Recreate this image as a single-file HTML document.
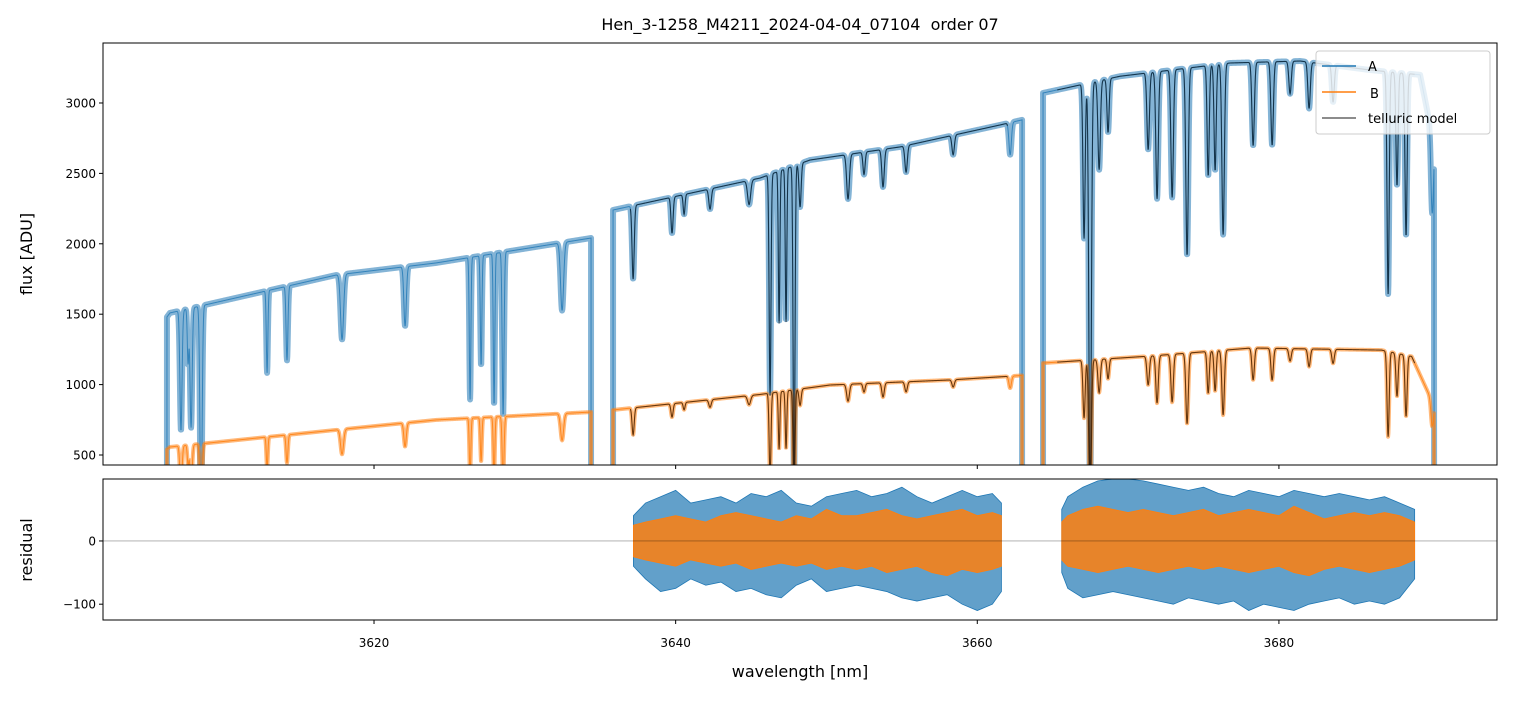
<!DOCTYPE html>
<html><head><meta charset="utf-8"><style>
body{margin:0;background:#fff;font-family:"Liberation Sans","DejaVu Sans",sans-serif}
svg text{font-family:"DejaVu Sans","Liberation Sans",sans-serif;fill:#000}
</style></head><body>
<svg id="c" width="1513" height="696" viewBox="0 0 1513 696" xmlns="http://www.w3.org/2000/svg">
<defs>
<clipPath id="ct"><rect x="103" y="43" width="1394" height="422"/></clipPath>
<clipPath id="cb"><rect x="103" y="479" width="1394" height="141"/></clipPath>
</defs>
<text x="800" y="30" font-size="16" text-anchor="middle" style="white-space:pre">Hen_3-1258_M4211_2024-04-04_07104  order 07</text>
<g id="topg" clip-path="url(#ct)"></g>
<g id="botg" clip-path="url(#cb)"></g>
<g id="axes"></g>
<text transform="translate(32,254) rotate(-90)" font-size="16" text-anchor="middle">flux [ADU]</text>
<text transform="translate(32,550) rotate(-90)" font-size="16" text-anchor="middle">residual</text>
<text x="800" y="677" font-size="16" text-anchor="middle">wavelength [nm]</text>
<g id="legend">
<rect x="1316" y="51" width="174" height="83" rx="3" fill="#fff" fill-opacity="0.8" stroke="#ccc"/>
<line x1="1322" y1="66" x2="1356" y2="66" stroke="#1f77b4" stroke-width="1.5"/>
<text x="1368" y="71" font-size="13">A</text>
<line x1="1322" y1="92" x2="1356" y2="92" stroke="#ff7f0e" stroke-width="1.5"/>
<text x="1370" y="98" font-size="13">B</text>
<line x1="1322" y1="118" x2="1356" y2="118" stroke="#000" stroke-opacity="0.6" stroke-width="1.5"/>
<text x="1368" y="123" font-size="13">telluric model</text>
</g>
</svg>
<script>
// ---- data ----
const segments = [[3606.27, 3634.39], [3635.85, 3662.97], [3664.36, 3690.29]];
const modelSegments = [[3637.0, 3662.0], [3665.3, 3689.0]];
const contA_wl = [3606.27, 3606.47, 3617.48, 3624.11, 3634.39, 3635.85, 3645.60, 3648.91, 3654.88, 3661.51, 3662.97, 3664.36, 3669.47, 3676.76, 3681.40, 3686.05, 3689.36, 3690.29];
const contA_val = [1480, 1509, 1778, 1864, 2041, 2240, 2467, 2595, 2688, 2844, 2880, 3071, 3190, 3284, 3298, 3234, 3200, 2700];
const contB_wl = [3606.27, 3606.47, 3617.48, 3624.11, 3634.39, 3635.85, 3645.60, 3650.23, 3658.19, 3662.97, 3664.36, 3671.5, 3678.2, 3686.8, 3688.8, 3690.29];
const contB_val = [540, 557, 678, 749, 805, 820, 930, 997, 1033, 1065, 1153, 1203, 1260, 1245, 1200, 850];
const lineCenters = [3607.20, 3607.67, 3607.87, 3608.53, 3612.91, 3614.23, 3617.88, 3622.06, 3626.37, 3627.10, 3627.96, 3628.56, 3632.47, 3637.18, 3639.76, 3640.56, 3642.28, 3644.87, 3646.26, 3646.86, 3647.32, 3647.85, 3648.25, 3651.43, 3652.49, 3653.75, 3655.28, 3658.40, 3662.18, 3667.08, 3667.48, 3668.08, 3668.67, 3671.33, 3671.92, 3672.92, 3673.91, 3675.31, 3675.77, 3676.30, 3678.29, 3679.55, 3680.74, 3682.00, 3683.59, 3687.24, 3687.83, 3688.43, 3690.16];
const lineDepths = [0.56, 0.25, 0.55, 0.98, 0.35, 0.31, 0.26, 0.23, 0.53, 0.41, 0.56, 0.6, 0.24, 0.23, 0.11, 0.06, 0.06, 0.07, 0.63, 0.43, 0.43, 0.9, 0.12, 0.12, 0.06, 0.1, 0.07, 0.05, 0.08, 0.35, 0.95, 0.2, 0.12, 0.17, 0.28, 0.28, 0.41, 0.24, 0.23, 0.37, 0.18, 0.18, 0.07, 0.1, 0.08, 0.49, 0.25, 0.36, 0.2];
const lineWidths = [0.07, 0.05, 0.07, 0.07, 0.05, 0.06, 0.1, 0.08, 0.05, 0.05, 0.05, 0.06, 0.1, 0.07, 0.07, 0.06, 0.08, 0.1, 0.06, 0.05, 0.05, 0.06, 0.07, 0.09, 0.07, 0.08, 0.08, 0.08, 0.08, 0.07, 0.08, 0.08, 0.07, 0.08, 0.08, 0.08, 0.08, 0.07, 0.07, 0.08, 0.08, 0.08, 0.08, 0.08, 0.08, 0.07, 0.07, 0.07, 0.08];
const resWl1 = [3637.2,3638,3639,3640,3641,3642,3643,3644,3645,3646,3647,3648,3649,3650,3651,3652,3653,3654,3655,3656,3657,3658,3659,3660,3661,3661.6];
const resAhi1 = [40,60,70,80,60,65,70,60,75,70,80,60,55,70,75,80,70,75,85,70,60,70,80,70,75,60];
const resAlo1 = [-40,-60,-80,-75,-60,-70,-65,-80,-75,-85,-90,-70,-60,-80,-75,-70,-75,-80,-90,-95,-90,-85,-100,-110,-100,-80];
const resBhi1 = [25,30,35,40,35,30,40,45,40,35,30,40,35,50,40,40,45,50,40,35,40,45,50,40,45,40];
const resBlo1 = [-25,-30,-35,-40,-30,-35,-40,-35,-45,-40,-35,-40,-35,-45,-40,-45,-40,-50,-45,-40,-50,-55,-45,-50,-45,-40];
const resWl2 = [3665.6,3666,3667,3668,3669,3670,3671,3672,3673,3674,3675,3676,3677,3678,3679,3680,3681,3682,3683,3684,3685,3686,3687,3688,3689];
const resAhi2 = [50,70,85,95,98,98,95,90,85,80,85,75,70,80,75,70,80,75,70,75,70,65,70,60,50];
const resAlo2 = [-50,-75,-90,-85,-80,-85,-90,-95,-100,-90,-95,-100,-95,-110,-100,-105,-110,-100,-95,-90,-100,-95,-100,-90,-60];
const resBhi2 = [30,40,50,55,50,45,50,45,40,45,50,40,45,50,45,40,55,45,35,40,45,40,45,40,30];
const resBlo2 = [-30,-40,-45,-50,-45,-40,-45,-50,-45,-40,-45,-40,-45,-50,-45,-40,-50,-55,-45,-40,-45,-50,-45,-40,-30];
const xTicks = [3620, 3640, 3660, 3680];
const yTicksTop = [500, 1000, 1500, 2000, 2500, 3000];
const yTicksBot = [-100, 0];
// ---- scales ----
const X0=3602.03, X1=3694.46, PX0=103, PX1=1497;
const sx = w => PX0 + (w - X0) / (X1 - X0) * (PX1 - PX0);
const syT = v => 465 - (v - 429) / (3426 - 429) * 422;
const syB = v => 620 - (v + 125) / (98 + 125) * 141;
const NS='http://www.w3.org/2000/svg';
function mk(tag, attrs, parent){const e=document.createElementNS(NS,tag);for(const k in attrs)e.setAttribute(k,attrs[k]);parent.appendChild(e);return e;}
function interp(xs, ys, x){ if(x<=xs[0])return ys[0]; for(let i=1;i<xs.length;i++){ if(x<=xs[i]){const t=(x-xs[i-1])/(xs[i]-xs[i-1]);return ys[i-1]+t*(ys[i]-ys[i-1]);} } return ys[ys.length-1]; }
function trans(w){ let t=1; for(let i=0;i<lineCenters.length;i++){ const d=(w-lineCenters[i])/lineWidths[i]; if(Math.abs(d)<6) t*=1-lineDepths[i]*Math.exp(-0.5*d*d);} return t; }
function specPath(a, b, cw, cv, edges){
  let p=''; const step=0.02;
  if(edges) p+='M'+sx(a).toFixed(2)+','+syT(300).toFixed(2);
  for(let w=a; w<=b+1e-9; w+=step){ const v=interp(cw,cv,w)*trans(w); p+=(p?'L':'M')+sx(w).toFixed(2)+','+syT(v).toFixed(2); }
  if(edges) p+='L'+sx(b).toFixed(2)+','+syT(300).toFixed(2);
  return p;
}
const topG=document.getElementById('topg'), botG=document.getElementById('botg'), axesG=document.getElementById('axes');
const seriesList=[['a','#1f77b4',contA_wl,contA_val,0.8],['b','#ff7f0e',contB_wl,contB_val,0.85]];
seriesList.forEach(s=>{
  segments.forEach((sg,i)=>{
    const d=specPath(sg[0],sg[1],s[2],s[3],true);
    const bd=mk('path',{d:d,fill:'none',stroke:s[1],'stroke-opacity':0.55,'stroke-width':s[0]==='a'?6:4,'stroke-linejoin':'round'},topG);
    
    
    const ln=mk('path',{d:d,fill:'none',stroke:s[1],'stroke-opacity':s[4],'stroke-width':1},topG);
    
    
  });
});
seriesList.forEach(s=>{
  modelSegments.forEach((sg,i)=>{
    const m=mk('path',{d:specPath(sg[0],sg[1],s[2],s[3],false),fill:'none',stroke:'#000','stroke-opacity':0.6,'stroke-width':1.1},topG);
    
    
  });
});
function band(ws, hi, lo, col, op, name){
  let p=''; ws.forEach((w,i)=>{p+=(i?'L':'M')+sx(w).toFixed(2)+','+syB(hi[i]).toFixed(2);});
  for(let i=ws.length-1;i>=0;i--) p+='L'+sx(ws[i]).toFixed(2)+','+syB(lo[i]).toFixed(2);
  const e=mk('path',{d:p+'Z',fill:col,'fill-opacity':op,stroke:col,'stroke-width':0.8},botG);
  
  
}
band(resWl1,resAhi1,resAlo1,'#1f77b4',0.7,'residual-a-1');
band(resWl2,resAhi2,resAlo2,'#1f77b4',0.7,'residual-a-2');
band(resWl1,resBhi1,resBlo1,'#ff7f0e',0.85,'residual-b-1');
band(resWl2,resBhi2,resBlo2,'#ff7f0e',0.85,'residual-b-2');
const zl=mk('line',{x1:103,x2:1497,y1:syB(0),y2:syB(0),stroke:'#000','stroke-width':0.5,'stroke-opacity':0.6},botG);


[[43,465],[479,620]].forEach((r,i)=>{
  const f=mk('rect',{x:103,y:r[0],width:1394,height:r[1]-r[0],fill:'none',stroke:'#000','stroke-width':1},axesG);
  
  
});
xTicks.forEach(t=>{
  const x=sx(t);
  mk('line',{x1:x,x2:x,y1:465,y2:469,stroke:'#000'},axesG);
  mk('line',{x1:x,x2:x,y1:620,y2:624,stroke:'#000'},axesG);
  const tx=mk('text',{x:x,y:647,'font-size':12,'text-anchor':'middle'},axesG);
  tx.textContent=t;
  
  
});
yTicksTop.forEach(t=>{
  const y=syT(t);
  mk('line',{x1:99,x2:103,y1:y,y2:y,stroke:'#000'},axesG);
  const tx=mk('text',{x:96,y:y+4.5,'font-size':12,'text-anchor':'end'},axesG);
  tx.textContent=t;
  
  
});
yTicksBot.forEach(t=>{
  const y=syB(t);
  mk('line',{x1:99,x2:103,y1:y,y2:y,stroke:'#000'},axesG);
  const tx=mk('text',{x:96,y:y+4.5,'font-size':12,'text-anchor':'end'},axesG);
  tx.textContent=t<0?'\u2212'+(-t):t;
  
  
});
document.getElementById('c').appendChild(document.getElementById('legend'));
</script>
</body></html>
